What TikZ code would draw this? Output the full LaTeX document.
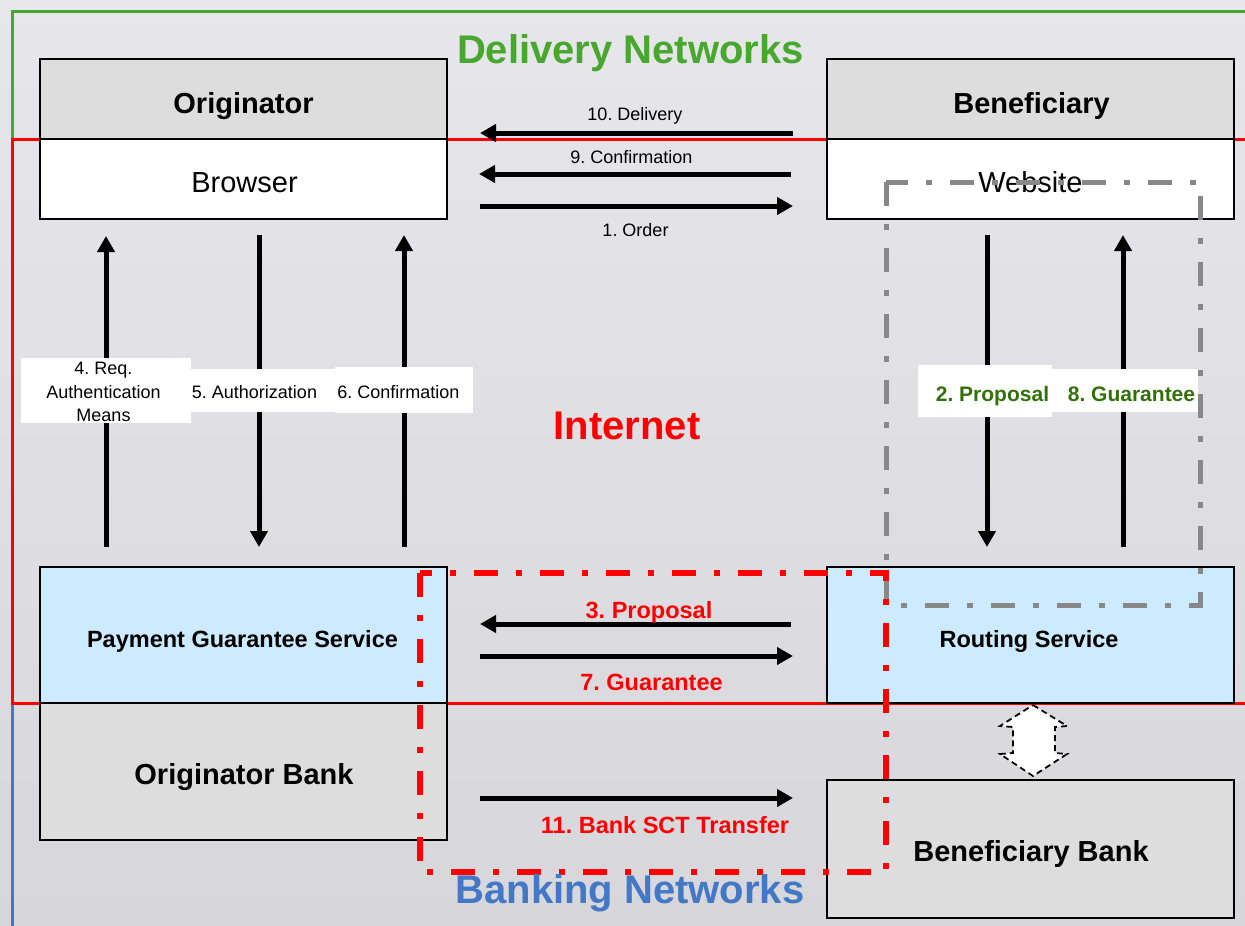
\documentclass[tikz,border=0pt]{standalone}
\usepackage{fontspec}
\setmainfont{Liberation Sans}
\usetikzlibrary{arrows.meta}
\definecolor{bgtop}{RGB}{231,231,235}
\definecolor{bgbot}{RGB}{214,214,219}
\definecolor{boxgray}{RGB}{221,221,221}
\definecolor{svcblue}{RGB}{204,235,254}
\definecolor{netgreen}{RGB}{72,168,46}
\definecolor{netred}{RGB}{255,0,0}
\definecolor{netblue}{RGB}{66,120,198}
\definecolor{lblgreen}{RGB}{52,112,10}
\definecolor{dashgray}{RGB}{136,136,136}
\frenchspacing
\begin{document}
\begin{tikzpicture}[x=1pt,y=-1pt,
 hbox/.style={draw=black,line width=1.5pt,minimum width=407pt,inner sep=0pt,outer sep=0pt,anchor=north west},
 flow/.style={line width=5pt,-{Triangle[length=16pt,width=17pt]}},
 btxt/.style={anchor=base,inner sep=0pt,font=\fontsize{29}{34}\selectfont\bfseries},
 rtxt/.style={anchor=base,inner sep=0pt,font=\fontsize{29}{34}\selectfont},
 stxt/.style={anchor=base,inner sep=0pt,font=\fontsize{23.5}{28}\selectfont\bfseries},
 atxt/.style={anchor=base,inner sep=0pt,font=\fontsize{18}{23.5}\selectfont},
 rlbl/.style={anchor=base,inner sep=0pt,text=netred,font=\fontsize{23.5}{28}\selectfont\bfseries},
 glbl/.style={anchor=base,inner sep=0pt,text=lblgreen,font=\fontsize{21}{25}\selectfont\bfseries},
 title/.style={anchor=base,inner sep=0pt,font=\fontsize{40}{48}\selectfont\bfseries},
 wbox/.style={fill=white,inner sep=0pt,outer sep=0pt,anchor=north west},
 dashdot/.style={line width=5pt,dash pattern=on 24pt off 18pt on 6pt off 18pt},
]
\useasboundingbox (0,0) rectangle (1245,926);
\shade[top color=bgtop,bottom color=bgbot] (0,0) rectangle (1245,926);

% network borders
\draw[netgreen,line width=3pt] (12,139) -- (12,11) -- (1245,11);
\draw[netblue,line width=3pt] (1245,703) -- (12,703) -- (12,926);
\draw[netred,line width=3pt] (1245,139) -- (12,139) -- (12,703) -- (1245,703);

% boxes
\node[hbox,fill=boxgray,minimum height=80pt] (orig) at (40,59) {};
\node[hbox,fill=white,minimum height=80pt] (browser) at (40,139) {};
\node[hbox,fill=boxgray,minimum height=80pt] (benef) at (827,59) {};
\node[hbox,fill=white,minimum height=80pt] (website) at (827,139) {};
\node[hbox,fill=svcblue,minimum height=136pt] (pgs) at (40,567) {};
\node[hbox,fill=boxgray,minimum height=137pt] (obank) at (40,703) {};
\node[hbox,fill=svcblue,minimum height=136pt] (routing) at (827,567) {};
\node[hbox,fill=boxgray,minimum height=138pt] (bbank) at (827,780) {};

\node[btxt] (torig) at (243.5,113) {Originator};
\node[rtxt] (tbrowser) at (244.5,192) {Browser};
\node[btxt] (tbenef) at (1031.5,113) {Beneficiary};
\node[rtxt] (twebsite) at (1030.5,192) {Website};
\node[stxt] (tpgs) at (242.5,647) {Payment Guarantee Service};
\node[btxt] (tobank) at (244,784) {Originator Bank};
\node[stxt] (trouting) at (1029,647) {Routing Service};
\node[btxt] (tbbank) at (1031,861) {Beneficiary Bank};

% horizontal arrows
\coordinate (a10s) at (793,133); \coordinate (a10e) at (480,133);
\coordinate (a9s) at (791,174); \coordinate (a9e) at (479,174);
\coordinate (a1s) at (480,206); \coordinate (a1e) at (793,206);
\coordinate (a3s) at (791,624); \coordinate (a3e) at (480,624);
\coordinate (a7s) at (480,656); \coordinate (a7e) at (793,656);
\coordinate (a11s) at (480,798); \coordinate (a11e) at (793,798);
\draw[flow] (a10s) -- (a10e);
\draw[flow] (a9s) -- (a9e);
\draw[flow] (a1s) -- (a1e);
\draw[flow] (a3s) -- (a3e);
\draw[flow] (a7s) -- (a7e);
\draw[flow] (a11s) -- (a11e);

% vertical arrows
\coordinate (a4s) at (106,547); \coordinate (a4e) at (106,236);
\coordinate (a5s) at (259,235); \coordinate (a5e) at (259,547);
\coordinate (a6s) at (404,547); \coordinate (a6e) at (404,235);
\coordinate (a2s) at (987,235); \coordinate (a2e) at (987,547);
\coordinate (a8s) at (1123,547); \coordinate (a8e) at (1123,235);
\draw[flow] (a4s) -- (a4e);
\draw[flow] (a5s) -- (a5e);
\draw[flow] (a6s) -- (a6e);
\draw[flow] (a2s) -- (a2e);
\draw[flow] (a8s) -- (a8e);

% horizontal arrow labels
\node[atxt] (l10) at (635,120) {10. Delivery};
\node[atxt] (l9) at (631.5,163) {9. Confirmation};
\node[atxt] (l1) at (635.5,236) {1. Order};
\node[rlbl] (l3) at (649,618) {3. Proposal};
\node[rlbl] (l7) at (651.5,690) {7. Guarantee};
\node[rlbl] (l11) at (665,833) {11. Bank SCT Transfer};

% vertical arrow labels
\node[wbox,minimum width=170pt,minimum height=65pt] (w4) at (21,358) {};
\node[wbox,minimum width=144pt,minimum height=43pt] (w5) at (191,369) {};
\node[wbox,minimum width=138pt,minimum height=46pt] (w6) at (335,367) {};
\node[wbox,minimum width=134pt,minimum height=52pt] (w2) at (918,365) {};
\node[wbox,minimum width=146pt,minimum height=43pt] (w8) at (1052,369) {};
\node[inner sep=0pt,align=center,font=\fontsize{18}{23.5}\selectfont] (l4) at (103.5,392) {4. Req.\\Authentication\\Means};
\node[atxt] (l5) at (254.5,398) {5. Authorization};
\node[atxt] (l6) at (398.5,398) {6. Confirmation};
\node[glbl] (l2) at (992.5,401) {2. Proposal};
\node[glbl] (l8) at (1131.5,401) {8. Guarantee};

% dash-dot regions
\draw[dashdot,draw=dashgray] (886,182) rectangle (1200,605);
\draw[dashdot,draw=netred,line width=6pt] (420,573) rectangle (886,872);

% double dashed arrow
\draw[fill=white,line width=1.8pt,dash pattern=on 6pt off 4pt]
  (1033,705) -- (1067,726) -- (1055,727) -- (1055,753) -- (1067,754) -- (1033,776)
  -- (1000,754) -- (1013,753) -- (1013,727) -- (1000,726) -- cycle;

% network titles
\node[title,text=netgreen] (tdel) at (630.5,63) {Delivery Networks};
\node[title,text=netred] (tint) at (627,439) {Internet};
\node[title,text=netblue] (tbank) at (630,903) {Banking Networks};
\end{tikzpicture}
\end{document}
